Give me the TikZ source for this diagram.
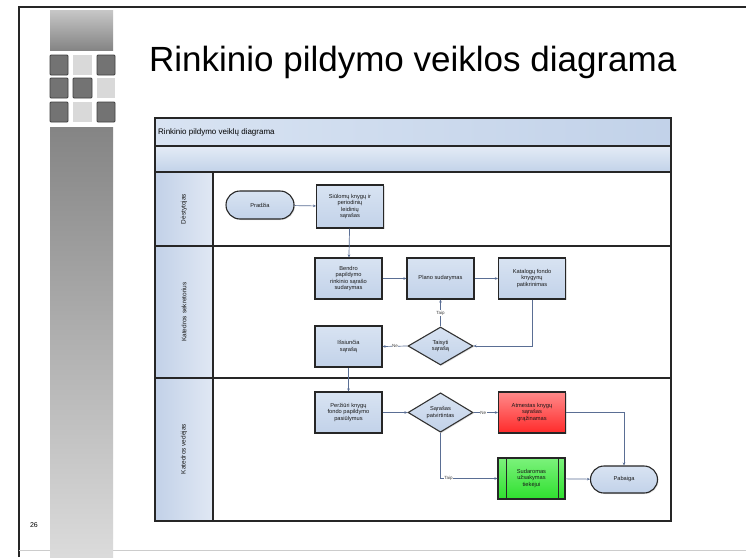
\documentclass[tikz,border=0pt]{standalone}
\usepackage{fontspec}
\setmainfont{Liberation Sans}
\usetikzlibrary{shapes.geometric,arrows.meta,shadows}
\definecolor{boxfill}{HTML}{C2D2E9}
\definecolor{boxfilltop}{HTML}{D8E3F2}
\definecolor{linecol}{HTML}{5A6E94}
\definecolor{lanefill}{HTML}{C2D1E8}
\definecolor{redtop}{HTML}{FF8A8A}
\definecolor{redbot}{HTML}{FF2A2A}
\definecolor{greentop}{HTML}{7CF27C}
\definecolor{greenbot}{HTML}{2EE02E}
\begin{document}
\begin{tikzpicture}[x=1pt,y=-1pt,
  boxtxt/.style={font=\fontsize{5.7}{6.5}\selectfont, align=center, text=black!90},
  actbox/.style={boxtxt, draw=black!85, line width=1.1pt, top color=boxfilltop, bottom color=boxfill,
     minimum width=67pt, minimum height=41pt, inner sep=1pt,
     drop shadow={shadow xshift=1pt, shadow yshift=-1pt, opacity=0.25}},
  decbox/.style={boxtxt, diamond, draw=black!80, line width=1.1pt, top color=boxfilltop, bottom color=boxfill,
     minimum width=65pt, minimum height=38pt, inner sep=0pt,
     drop shadow={shadow xshift=1pt, shadow yshift=-1pt, opacity=0.25}},
  termbox/.style={boxtxt, draw=black!85, line width=1.1pt, top color=boxfilltop, bottom color=boxfill,
     minimum width=67pt, minimum height=27pt, rounded corners=13.5pt, inner sep=1pt,
     drop shadow={shadow xshift=1pt, shadow yshift=-1pt, opacity=0.25}},
  conn/.style={draw=linecol, line width=0.7pt, -{Stealth[length=3pt,width=2.6pt]}},
  lbl/.style={font=\fontsize{4.5}{5}\selectfont, fill=white, inner sep=0.6pt, text=black!75},
  lanelbl/.style={rotate=90, font=\fontsize{6.5}{7.5}\selectfont, text=black!90},
  darksq/.style={draw=black!75, line width=0.8pt, fill=black!55, rounded corners=1pt},
  lightsq/.style={fill=black!15},
]
\useasboundingbox (0,0) rectangle (746,557);
\fill[white] (0,0) rectangle (746,557);

% slide frame
\draw[black!85, line width=1.4pt] (19,557) -- (19,7) -- (746,7);
\draw[black!20, line width=0.6pt] (19,550) -- (746,550);

% left decoration
\shade[top color=black!22, bottom color=black!48] (50,10) rectangle (113,50);
\draw[darksq] (50,55) rectangle (68,75);
\fill[lightsq] (73,55) rectangle (92,75);
\draw[darksq] (97,55) rectangle (115,75);
\draw[darksq] (50,78) rectangle (68,98);
\draw[darksq] (73,78) rectangle (92,98);
\fill[lightsq] (97,78) rectangle (115,98);
\draw[darksq] (50,102) rectangle (68,122);
\fill[lightsq] (73,102) rectangle (92,122);
\draw[darksq] (97,102) rectangle (115,122);
\shade[top color=black!48, bottom color=black!14] (50,127) rectangle (113,557);

% slide title and number
\node[anchor=base west, font=\fontsize{35}{40}\selectfont, inner sep=0pt] (title) at (149,71) {Rinkinio pildymo veiklos diagrama};
\node[font=\fontsize{7}{8}\selectfont, inner sep=0pt] (pgnum) at (34,525) {26};

% swimlane frame
\shade[left color=boxfilltop, right color=boxfill] (155,118) rectangle (671,146);
\shade[top color=boxfilltop!70!white, bottom color=boxfill] (155,146) rectangle (671,172);
\shade[left color=lanefill, right color=lanefill!50!white] (155,172) rectangle (213,521);
\draw[black!85, line width=1.2pt] (155,118) rectangle (671,521);
\draw[black!85, line width=1.2pt] (155,146) -- (671,146);
\draw[black!85, line width=1.2pt] (155,172) -- (671,172);
\draw[black!85, line width=1.2pt] (155,246) -- (671,246);
\draw[black!85, line width=1.2pt] (155,378) -- (671,378);
\draw[black!85, line width=1.2pt] (213,172) -- (213,521);
\node[anchor=west, font=\fontsize{8}{9}\selectfont, inner sep=0pt] (dtitle) at (158,132) {Rinkinio pildymo veiklų diagrama};

\node[lanelbl] (lane1) at (184,209) {Dėstytojas};
\node[lanelbl] (lane2) at (184,312) {Katedros sekretorius};
\node[lanelbl] (lane3) at (184,449) {Katedros vedėjas};

% nodes
\node[termbox, minimum width=68pt, minimum height=28pt, rounded corners=14pt] (start) at (260,205) {Pradžia};
\node[actbox, minimum height=43pt] (b1) at (350,206.5) {Siūlomų knygų ir\\periodinių\\leidinių\\sąrašas};
\node[actbox] (b2) at (348.5,278.5) {Bendro\\papildymo\\rinkinio sąrašo\\sudarymas};
\node[actbox] (b3) at (440.5,278.5) {Plano sudarymas};
\node[actbox] (b4) at (532,278.5) {Katalogų fondo\\knygynų\\patikrinimas};
\node[decbox] (d1) at (440.5,346) {Taisyti\\sąrašą};
\node[actbox] (b5) at (348.5,346.5) {Išsiunčia\\sąrašą};
\node[actbox] (b6) at (348.5,412.5) {Peržiūri knygų\\fondo papildymo\\pasiūlymus};
\node[decbox] (d2) at (440.5,412.5) {Sąrašas\\patvirtintas};
\node[actbox, top color=redtop, bottom color=redbot] (red) at (532,412.5) {Atmestas knygų\\sąrašas\\grąžinamas};
\node[actbox, top color=greentop, bottom color=greenbot] (green) at (531.5,478.5) {Sudaromas\\užsakymas\\tiekėjui};
\draw[black!85, line width=1.1pt] ([xshift=9pt]green.north west) -- ([xshift=9pt]green.south west);
\draw[black!85, line width=1.1pt] ([xshift=-7pt]green.north east) -- ([xshift=-7pt]green.south east);
\node[termbox] (end) at (624,479.5) {Pabaiga};

% connectors
\draw[conn] (start) -- (b1);
\draw[conn] (b1) -- (b2);
\draw[conn] (b2) -- (b3);
\draw[conn] (b3) -- (b4);
\draw[conn] (b4.south) |- (d1.east);
\draw[conn] (d1.north) -- node[lbl, pos=0.5] {Taip} (b3.south);
\draw[conn] (d1.west) -- node[lbl, pos=0.5] {Ne} (b5.east);
\draw[conn] (b5) -- (b6);
\draw[conn] (b6) -- (d2);
\draw[conn] (d2.east) -- node[lbl, pos=0.4] {Ne} (red.west);
\draw[conn] (d2.south) |- node[lbl, pos=0.57] {Taip} (green.west);
\draw[conn] (red.east) -| (end.north);
\draw[conn] (green) -- (end);
\end{tikzpicture}
\end{document}
